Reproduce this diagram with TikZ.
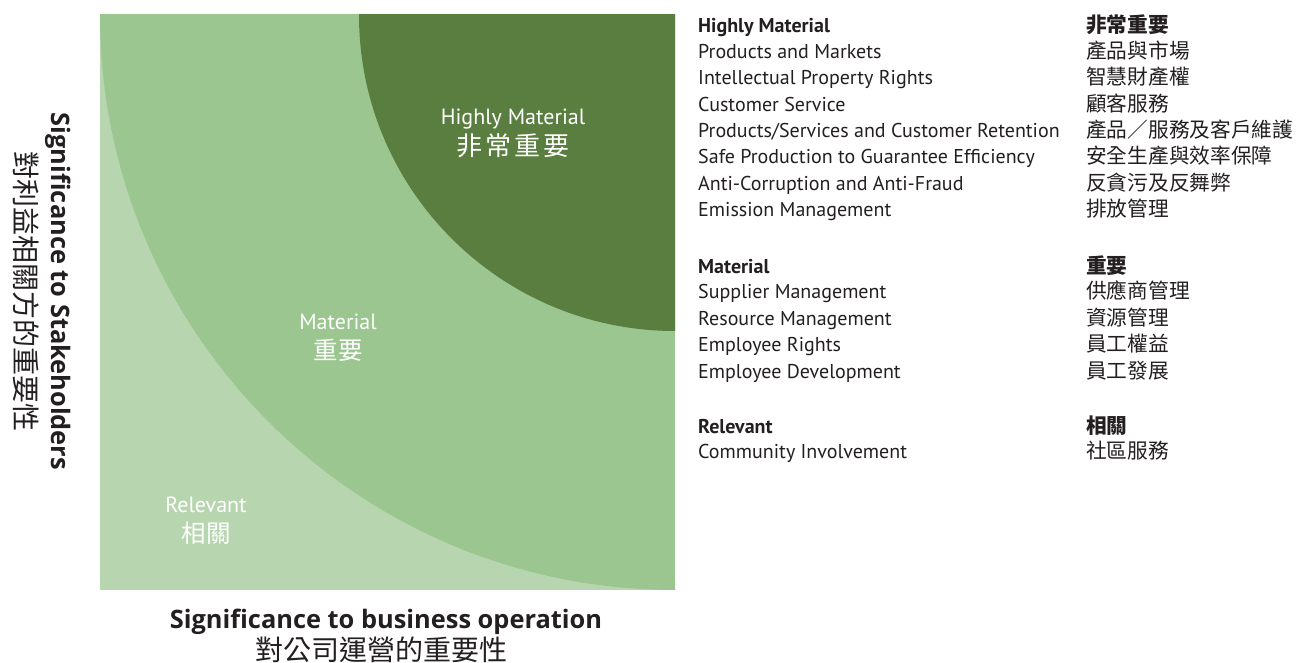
\documentclass[tikz,border=0pt]{standalone}
\usepackage{fontspec}
\setmainfont{PT Sans}
\newfontfamily\axisfont{Open Sans}
\newfontfamily\cjk{Noto Sans CJK TC}
\definecolor{relevantgreen}{RGB}{183,214,176}
\definecolor{materialgreen}{RGB}{155,198,144}
\definecolor{highlygreen}{RGB}{90,126,64}
\definecolor{ink}{RGB}{35,31,32}

\tikzset{
  listitem/.style={anchor=base west, inner sep=0pt, text=ink, font=\fontsize{20}{20}\selectfont},
  listhead/.style={listitem, font=\fontsize{20}{20}\selectfont\bfseries},
  zhitem/.style={anchor=base west, inner sep=0pt, text=ink, font=\fontsize{20.7}{20.7}\selectfont\cjk},
  zhhead/.style={zhitem, font=\fontsize{20.7}{20.7}\selectfont\cjk\bfseries},
  bandlabel/.style={anchor=base, inner sep=0pt, text=white, font=\fontsize{22}{22}\selectfont},
  bandzh/.style={inner sep=0pt, text=white, font=\fontsize{24.5}{24.5}\selectfont\cjk},
  axislabel/.style={anchor=base, inner sep=0pt, text=ink, font=\fontsize{25.4}{25.4}\selectfont\axisfont\bfseries},
  axiszh/.style={inner sep=0pt, text=ink, font=\fontsize{28}{28}\selectfont\cjk}
}

\begin{document}
\begin{tikzpicture}[x=1pt, y=-1pt]
  \useasboundingbox (0,0) rectangle (1303,663);

  % the three bands of the matrix
  \fill[relevantgreen] (100,15) rectangle (675,590);
  \begin{scope}
    \clip (100,15) rectangle (675,590);
    \fill[materialgreen] (675,15) circle[radius=575];
    \fill[highlygreen] (675,15) circle[radius=316];
  \end{scope}

  \node[bandlabel] (hmEn) at (513,125) {Highly Material};
  \node[bandzh, font=\fontsize{26}{26}\selectfont\cjk] (hmZh) at (513,146) {非\hspace{3pt}常\hspace{3pt}重\hspace{3pt}要};
  \node[bandlabel] (matEn) at (338,329) {Material};
  \node[bandzh] (matZh) at (338,350) {重要};
  \node[bandlabel] (relEn) at (206,512) {Relevant};
  \node[bandzh] (relZh) at (206,533) {相關};

  % axes
  \node[axislabel] (xEn) at (386,628) {Significance to business operation};
  \node[axiszh] (xZh) at (381,650) {對公司運營的重要性};
  \node[axislabel, rotate=-90] (yEn) at (51,291.5) {Significance to Stakeholders};
  \node[axiszh, rotate=-90] (yZh) at (26,292) {對利益相關方的重要性};

  % list, english
  \node[listhead] (hmHead) at (698,32.7) {Highly Material};
  \node[listitem] (hm1) at (698,58.3) {Products and Markets};
  \node[listitem] (hm2) at (698,84.7) {Intellectual Property Rights};
  \node[listitem] (hm3) at (698,111.1) {Customer Service};
  \node[listitem] (hm4) at (698,137.5) {Products/Services and Customer Retention};
  \node[listitem] (hm5) at (698,163.9) {Safe Production to Guarantee Efficiency};
  \node[listitem] (hm6) at (698,190.3) {Anti-Corruption and Anti-Fraud};
  \node[listitem] (hm7) at (698,216.7) {Emission Management};
  \node[listhead] (matHead) at (698,273) {Material};
  \node[listitem] (mat1) at (698,298.7) {Supplier Management};
  \node[listitem] (mat2) at (698,325.2) {Resource Management};
  \node[listitem] (mat3) at (698,351.7) {Employee Rights};
  \node[listitem] (mat4) at (698,378.2) {Employee Development};
  \node[listhead] (relHead) at (698,433) {Relevant};
  \node[listitem] (rel1) at (698,458.6) {Community Involvement};

  % list, chinese
  \node[zhhead] (hmHeadZh) at (1086,32.7) {非常重要};
  \node[zhitem] (hm1Zh) at (1086,58.3) {產品與市場};
  \node[zhitem] (hm2Zh) at (1086,84.7) {智慧財產權};
  \node[zhitem] (hm3Zh) at (1086,111.1) {顧客服務};
  \node[zhitem] (hm4Zh) at (1086,137.5) {產品／服務及客戶維護};
  \node[zhitem] (hm5Zh) at (1086,163.9) {安全生產與效率保障};
  \node[zhitem] (hm6Zh) at (1086,190.3) {反貪污及反舞弊};
  \node[zhitem] (hm7Zh) at (1086,216.7) {排放管理};
  \node[zhhead] (matHeadZh) at (1086,273) {重要};
  \node[zhitem] (mat1Zh) at (1086,298.7) {供應商管理};
  \node[zhitem] (mat2Zh) at (1086,325.2) {資源管理};
  \node[zhitem] (mat3Zh) at (1086,351.7) {員工權益};
  \node[zhitem] (mat4Zh) at (1086,378.2) {員工發展};
  \node[zhhead] (relHeadZh) at (1086,433) {相關};
  \node[zhitem] (rel1Zh) at (1086,458.6) {社區服務};
\end{tikzpicture}
\end{document}
